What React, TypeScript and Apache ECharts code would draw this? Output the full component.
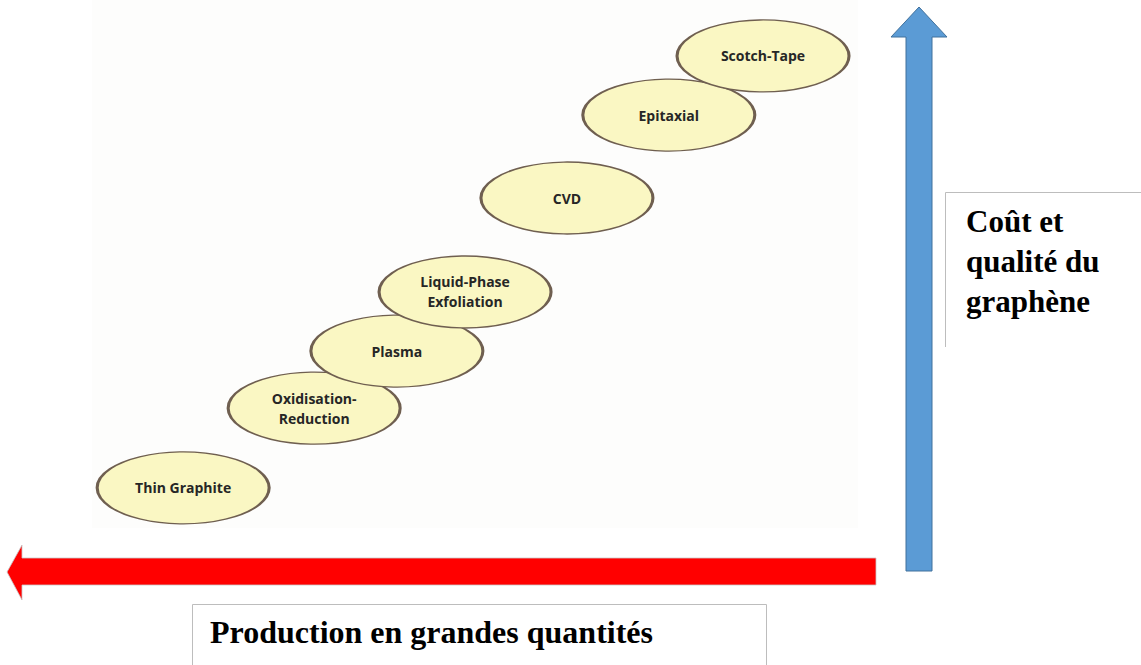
import React, { useEffect, useRef } from "react";
import * as echarts from "echarts";

// Methods of graphene production, placed by production scale (x) and cost/quality (y)
const methods = ["Thin Graphite", "Oxidisation-\nReduction", "Plasma", "Liquid-Phase\nExfoliation", "CVD", "Epitaxial", "Scotch-Tape"];
const productionPos = [11.9, 29.0, 39.8, 48.7, 62.0, 75.3, 87.6];
const qualityPos = [7.6, 22.7, 33.5, 44.7, 62.5, 78.2, 89.4];

const verticalLabel = "Coût et\nqualité du\ngraphène";
const horizontalLabel = "Production en grandes quantités";

export default function App() {
  const ref = useRef<HTMLDivElement>(null);
  useEffect(() => {
    const chart = echarts.init(ref.current!, null, { renderer: "svg" });
    const data = methods.map((m, i) => ({ name: m, value: [productionPos[i], qualityPos[i]] }));
    chart.setOption({
      animation: false,
      backgroundColor: "#ffffff",
      grid: {
        left: 92,
        top: 0,
        width: 766,
        height: 528,
        show: true,
        borderWidth: 0,
        backgroundColor: "#fdfdfc",
      },
      xAxis: { type: "value", min: 0, max: 100, show: false },
      yAxis: { type: "value", min: 0, max: 100, show: false },
      series: [
        {
          type: "scatter",
          symbol: "circle",
          symbolSize: [172, 72],
          itemStyle: { color: "#faf7c3", borderColor: "#6f5f50", borderWidth: 2, opacity: 1 },
          emphasis: { disabled: true },
          label: {
            show: true,
            position: "inside",
            formatter: (p: any) => p.name,
            color: "#262626",
            fontFamily: "Open Sans",
            fontWeight: "bold",
            fontSize: 14,
            lineHeight: 20,
          },
          data,
        },
      ],
      graphic: [
        // blue vertical arrow
        {
          type: "polygon",
          shape: {
            points: [
              [906, 571], [932, 571], [932, 37], [947, 37], [919, 7], [891, 37], [906, 37],
            ],
          },
          style: { fill: "#5b9bd5", stroke: "#41719c", lineWidth: 1 },
        },
        // red horizontal arrow
        {
          type: "polygon",
          shape: {
            points: [
              [876, 558], [876, 585], [22, 585], [22, 600], [7, 572], [22, 545], [22, 558],
            ],
          },
          style: { fill: "#ff0000", stroke: "#c8c8c8", lineWidth: 0.8 },
        },
        // right text box border
        {
          type: "polyline",
          shape: { points: [[1141, 192.5], [945.5, 192.5], [945.5, 347]] },
          style: { stroke: "#bdbdbd", lineWidth: 1, fill: null },
        },
        {
          type: "text",
          left: 966,
          top: 201,
          style: {
            text: verticalLabel,
            font: "bold 31px 'Liberation Serif', 'Times New Roman', serif",
            fill: "#000000",
            lineHeight: 40,
          },
        },
        // bottom text box border
        {
          type: "polyline",
          shape: { points: [[192.5, 665], [192.5, 604.5], [766.5, 604.5], [766.5, 665]] },
          style: { stroke: "#bdbdbd", lineWidth: 1, fill: null },
        },
        {
          type: "text",
          left: 210,
          top: 616,
          style: {
            text: horizontalLabel,
            font: "bold 32px 'Liberation Serif', 'Times New Roman', serif",
            fill: "#000000",
          },
        },
      ],
    });
    return () => chart.dispose();
  }, []);
  return <div ref={ref} style={{ width: 1141, height: 665, position: "absolute", left: 0, top: 0 }} />;
}
